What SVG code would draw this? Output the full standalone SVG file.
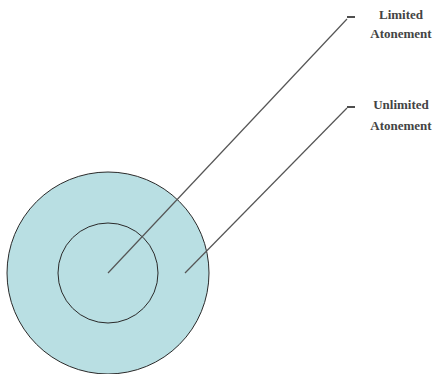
<svg xmlns="http://www.w3.org/2000/svg" width="438" height="374" viewBox="0 0 438 374">
<style>
.ring{fill:#b9dfe3;stroke:#2a2a2a;stroke-width:1}
.inner{fill:none;stroke:#2a2a2a;stroke-width:1}
.lead{fill:none;stroke:#555;stroke-width:1.2}
.tick{fill:none;stroke:#222;stroke-width:1.6}
.lbl{font-family:"Liberation Serif",serif;font-size:13px;font-weight:bold;fill:#444;text-anchor:middle}
</style>
<rect width="438" height="374" fill="#fff"/>
<g id="outer-circle"><circle class="ring" cx="108" cy="273" r="101"/></g>
<g id="inner-circle"><circle class="inner" cx="108" cy="273" r="50"/></g>
<g id="connectors">
<polyline class="lead" points="108,273 347,19"/>
<line class="tick" x1="347" y1="17" x2="355" y2="17"/>
<polyline class="lead" points="185,273 347,108"/>
<line class="tick" x1="347" y1="107" x2="355" y2="107"/>
</g>
<g id="label-limited"><text class="lbl" x="401" y="19">Limited</text><text class="lbl" x="401" y="38">Atonement</text></g>
<g id="label-unlimited"><text class="lbl" x="401" y="109">Unlimited</text><text class="lbl" x="401" y="130">Atonement</text></g>
</svg>
